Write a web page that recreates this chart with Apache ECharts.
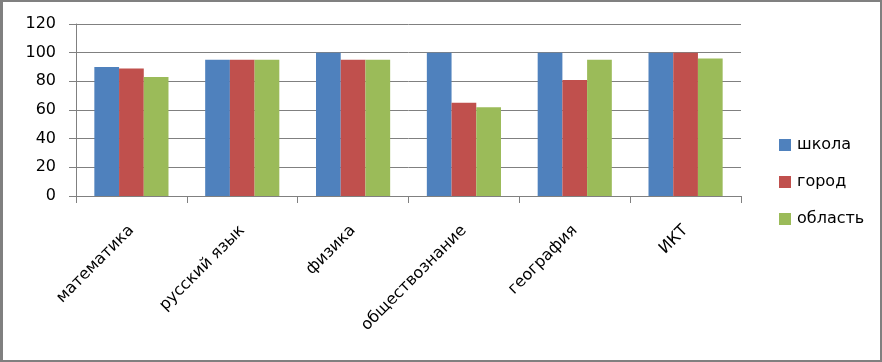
<!DOCTYPE html>
<html><head><meta charset="utf-8">
<script src="https://cdn.jsdelivr.net/npm/echarts@6/dist/echarts.min.js"></script>
<style>
html,body{margin:0;padding:0;background:#fff;}
#frame{position:absolute;left:0;top:0;width:882px;height:362px;box-sizing:border-box;border:2px solid #808080;border-left-width:3px;}
#c{position:absolute;left:0;top:0;width:882px;height:362px;}
</style></head>
<body>
<div id="c"></div>
<div id="frame"></div>
<script>
const categories = ['математика','русский язык','физика','обществознание','география','ИКТ'];
const school = [90, 95, 100, 100, 100, 100];
const city = [89, 95, 95, 65, 81, 100];
const region = [83, 95, 95, 62, 95, 96];
const seriesNames = ['школа','город','область'];
const colors = ['#4F81BD','#C0504D','#9BBB59'];
const yTicks = [0,20,40,60,80,100,120];

const font = 'DejaVu Sans';
const chart = echarts.init(document.getElementById('c'), null, {renderer:'canvas'});
const mk = (name, data, i) => ({
  name, type:'bar', data, barWidth:'22.3%', barGap:'0%',
  itemStyle:{color:colors[i]}
});
chart.setOption({
  animation:false,
  textStyle:{fontFamily:font},
  grid:{left:76,right:141,top:24,bottom:166,containLabel:false},
  legend:{
    orient:'vertical', left:774, top:132, itemWidth:12, itemHeight:12, itemGap:21,
    icon:'rect',
    textStyle:{fontFamily:font,fontSize:16,color:'#000',padding:[0,0,0,1]},
    data:seriesNames
  },
  xAxis:{
    type:'category', data:categories, boundaryGap:true,
    axisLine:{lineStyle:{color:'#808080',width:1}},
    axisTick:{show:true,length:7,inside:false,lineStyle:{color:'#808080'}},
    axisLabel:{rotate:45,fontSize:16,color:'#000',fontFamily:font,margin:32,interval:0}
  },
  yAxis:{
    type:'value', min:yTicks[0], max:yTicks[yTicks.length-1], interval:20,
    axisLine:{show:true,lineStyle:{color:'#808080',width:1}},
    axisTick:{show:true,length:7,lineStyle:{color:'#808080'}},
    splitLine:{show:true,lineStyle:{color:'#808080',width:1}},
    axisLabel:{fontSize:16,color:'#000',fontFamily:font,margin:20}
  },
  series:[mk(seriesNames[0],school,0),mk(seriesNames[1],city,1),mk(seriesNames[2],region,2)]
});
</script>
</body></html>
